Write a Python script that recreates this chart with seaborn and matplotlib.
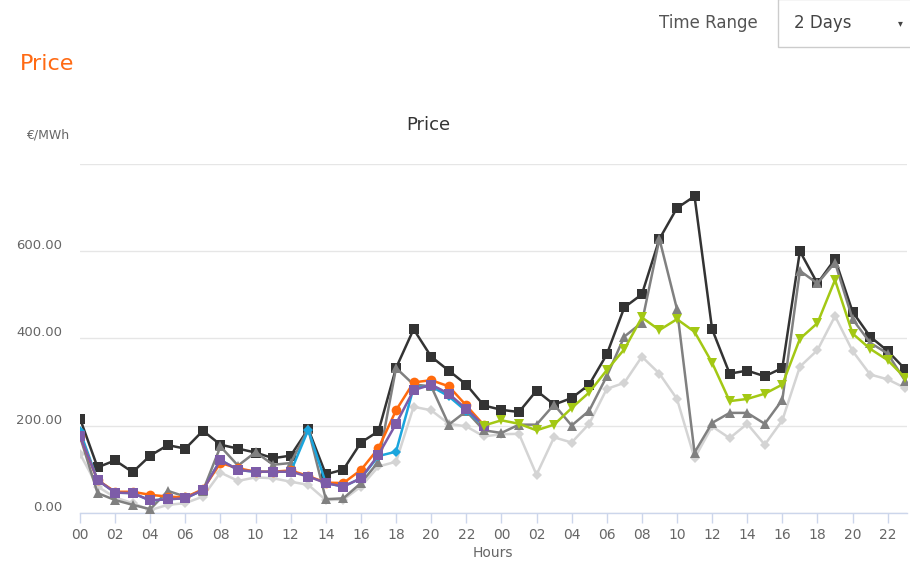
import numpy as np
import pandas as pd
import matplotlib
matplotlib.use("Agg")
import matplotlib.pyplot as plt
import matplotlib.transforms as mtransforms
from matplotlib.patches import Rectangle
import seaborn as sns

nan = np.nan

# two days of hourly prices (EUR/MWh), index 0..47
hours = list(range(48))
hour_labels = ["%02d" % (h % 24) for h in hours]

black_sq = [216, 104, 120, 93, 131, 155, 147, 188, 156, 147, 138, 125, 131, 192, 88, 99,
            161, 187, 332, 421, 358, 326, 294, 246, 236, 231, 280, 248, 263, 294, 363, 471,
            501, 628, 699, 726, 421, 319, 326, 313, 332, 600, 526, 582, 461, 404, 371, 329]
gray_tri = [175, 45, 29, 18, 8, 50, 37, 50, 152, 108, 139, 110, 114, 192, 31, 33,
            68, 117, 332, 294, 290, 202, 233, 189, 183, 202, 202, 248, 200, 234, 313, 404,
            436, 628, 467, 138, 206, 229, 229, 204, 259, 555, 526, 574, 444, 390, 365, 302]
light_dia = [135, 60, 35, 22, 6, 18, 22, 37, 92, 73, 81, 79, 71, 64, 29, 30,
             60, 106, 117, 243, 235, 204, 198, 175, 180, 181, 87, 173, 161, 204, 284, 298,
             358, 319, 261, 125, 198, 171, 204, 156, 212, 335, 373, 451, 371, 317, 306, 286]
cyan_dia = [187, 75, 46, 45, 28, 31, 33, 52, 121, 98, 94, 94, 94, 190, 68, 60,
            79, 130, 140, 287, 290, 267, 233, 200] + [nan] * 24
orange_circ = [175, 75, 48, 48, 41, 37, 35, 54, 114, 102, 94, 94, 97, 84, 69, 68,
               98, 148, 235, 299, 304, 290, 246, 201] + [nan] * 24
purple_sq = [175, 75, 46, 45, 28, 31, 33, 52, 121, 98, 94, 94, 94, 83, 68, 60,
             79, 133, 204, 281, 294, 273, 238, 200] + [nan] * 24
green_tri = [nan] * 23 + [200, 212, 204, 189, 202, 240, 276, 327, 375,
                          448, 419, 444, 415, 344, 256, 261, 273, 294, 399, 435, 534,
                          411, 376, 350, 309]

series = [
    ("light", light_dia, "#d4d4d4", "D", 5.5, 2),
    ("black", black_sq, "#333333", "s", 7, 3),
    ("gray", gray_tri, "#808080", "^", 7, 4),
    ("cyan", cyan_dia, "#1ba5dd", "D", 5.5, 5),
    ("orange", orange_circ, "#ff6a0d", "o", 7, 6),
    ("purple", purple_sq, "#7d5ca8", "s", 7.5, 7),
    ("green", green_tri, "#a3c814", "v", 7, 8),
]

sns.set_theme(style="white")
plt.rcParams["font.family"] = ["Liberation Sans Narrow", "DejaVu Sans"]

fig = plt.figure(figsize=(9.1, 5.63), dpi=100)
ax = fig.add_axes([80 / 910, 50.3 / 563, 827 / 910, 348.7 / 563])

for name, vals, color, marker, ms, z in series:
    df = pd.DataFrame({"hour": hours, "price": vals})
    sns.lineplot(data=df, x="hour", y="price", ax=ax, color=color, marker=marker,
                 markersize=ms, markeredgewidth=0, linewidth=1.8, zorder=z)

ax.set_xlim(0, 47.1)
ax.set_ylim(0, 800)
ax.set_yticks([0, 200, 400, 600, 800])
ax.set_yticklabels(["0.00", "200.00", "400.00", "600.00", ""])
ax.set_xticks(hours[::2])
ax.set_xticklabels(hour_labels[::2])
ax.grid(axis="y", color="#e6e6e6", linewidth=1)
ax.grid(axis="x", visible=False)
for s in ["top", "right", "left"]:
    ax.spines[s].set_visible(False)
ax.spines["bottom"].set_color("#ccd6eb")
ax.spines["bottom"].set_linewidth(1)
ax.tick_params(axis="y", length=0, pad=13, labelsize=9.5, labelcolor="#666666")
ax.tick_params(axis="x", direction="out", length=7, width=1, color="#ccd6eb",
               pad=4, labelsize=10, labelcolor="#666666", bottom=True)
offset = mtransforms.ScaledTranslation(0, 5 / 72, fig.dpi_scale_trans)
for lab in ax.get_yticklabels():
    lab.set_transform(lab.get_transform() + offset)
ax.set_xlabel("")
ax.set_ylabel("")

# titles and labels
fig.text(428 / 910, 1 - 125 / 563, "Price", ha="center", va="center", fontsize=13, color="#333333")
fig.text(48 / 910, 1 - 135 / 563, "€/MWh", ha="center", va="center", fontsize=9, color="#666666")
fig.text(493 / 910, 1 - 553 / 563, "Hours", ha="center", va="center", fontsize=10, color="#666666")
fig.text(20 / 910, 1 - 64 / 563, "Price", ha="left", va="center", fontsize=16, color="#ff6a13")

# time range selector
fig.text(758 / 910, 1 - 23 / 563, "Time Range", ha="right", va="center", fontsize=12,
         color="#555555")
fig.patches.append(Rectangle((778 / 910, 1 - 47 / 563), 140 / 910, 48 / 563,
                             transform=fig.transFigure, facecolor="white",
                             edgecolor="#cccccc", linewidth=1))
fig.text(794 / 910, 1 - 23 / 563, "2 Days", ha="left", va="center", fontsize=12, color="#444444")
fig.text(900 / 910, 1 - 23 / 563, "▾", ha="center", va="center", fontsize=7, color="#444444",
         family=["DejaVu Sans"])

fig.savefig("out.png", dpi=100)
